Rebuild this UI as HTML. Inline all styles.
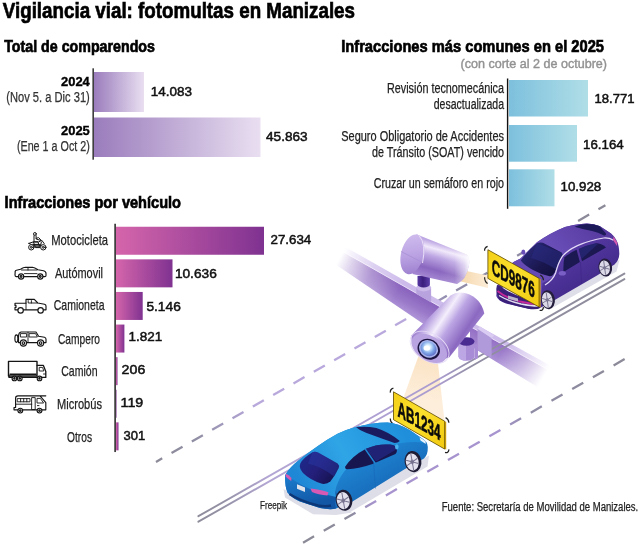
<!DOCTYPE html>
<html><head><meta charset="utf-8"><title>Vigilancia vial</title>
<style>
html,body{margin:0;padding:0;background:#fff;}
body{width:640px;height:544px;overflow:hidden;font-family:'Liberation Sans', sans-serif;}
svg{display:block;font-family:'Liberation Sans', sans-serif;}
</style></head><body>
<svg width="640" height="544" viewBox="0 0 640 544">
<rect width="640" height="544" fill="#fff"/>
<g opacity="0.999">
<defs>

<linearGradient id="gPur" x1="0" x2="1" y1="0" y2="0"><stop offset="0" stop-color="#9a7cbc"/><stop offset="1" stop-color="#e9dff1"/></linearGradient>
<linearGradient id="gBlu" x1="0" x2="1" y1="0" y2="0"><stop offset="0" stop-color="#7dc0dd"/><stop offset="1" stop-color="#b0dee7"/></linearGradient>
<linearGradient id="gMag" x1="0" x2="1" y1="0" y2="0"><stop offset="0" stop-color="#d565ab"/><stop offset="1" stop-color="#7f3291"/></linearGradient>

<!-- road line gradients -->
<linearGradient id="gLineA" gradientUnits="userSpaceOnUse" x1="150" y1="0" x2="610" y2="0">
  <stop offset="0" stop-color="#8b8a97"/><stop offset="0.10" stop-color="#908ea4"/><stop offset="0.23" stop-color="#b8a8dc"/>
  <stop offset="0.57" stop-color="#b8a8dc"/><stop offset="0.65" stop-color="#908cab"/><stop offset="1" stop-color="#8b8a97"/>
</linearGradient>
<linearGradient id="gLineB" gradientUnits="userSpaceOnUse" x1="195" y1="0" x2="630" y2="0">
  <stop offset="0" stop-color="#8e8d9b"/><stop offset="0.06" stop-color="#9390a4"/><stop offset="0.17" stop-color="#b3a6d4"/>
  <stop offset="0.56" stop-color="#ab9cd0"/><stop offset="0.64" stop-color="#908da2"/><stop offset="1" stop-color="#8e8d9b"/>
</linearGradient>
<linearGradient id="gLineC" gradientUnits="userSpaceOnUse" x1="300" y1="0" x2="630" y2="0">
  <stop offset="0" stop-color="#8b8a97"/><stop offset="0.15" stop-color="#8c8b9c"/><stop offset="0.23" stop-color="#a794cf"/>
  <stop offset="0.60" stop-color="#a794cf"/><stop offset="0.70" stop-color="#8f8ca6"/><stop offset="1" stop-color="#8b8a97"/>
</linearGradient>
<!-- beam -->
<linearGradient id="gBeamFade" gradientUnits="userSpaceOnUse" x1="336" y1="254" x2="554" y2="378">
  <stop offset="0.02" stop-color="#fff" stop-opacity="0"/><stop offset="0.075" stop-color="#fff" stop-opacity="0.3"/><stop offset="0.16" stop-color="#fff" stop-opacity="0.7"/><stop offset="0.29" stop-color="#fff" stop-opacity="1"/>
  <stop offset="0.766" stop-color="#fff" stop-opacity="1"/><stop offset="0.872" stop-color="#fff" stop-opacity="0.5"/><stop offset="0.963" stop-color="#fff" stop-opacity="0"/>
</linearGradient>
<mask id="mBeam" maskUnits="userSpaceOnUse" x="320" y="230" width="260" height="180">
  <rect x="320" y="230" width="260" height="180" fill="url(#gBeamFade)"/>
</mask>
<linearGradient id="gBeamFront" gradientUnits="userSpaceOnUse" x1="400" y1="286" x2="389" y2="306">
  <stop offset="0" stop-color="#8a64bd"/><stop offset="0.5" stop-color="#9a79c9"/><stop offset="1" stop-color="#b39adb"/>
</linearGradient>
<linearGradient id="gBeamFront2" gradientUnits="userSpaceOnUse" x1="510" y1="349" x2="499" y2="371">
  <stop offset="0" stop-color="#9672c6"/><stop offset="0.5" stop-color="#a386d0"/><stop offset="1" stop-color="#b9a3de"/>
</linearGradient>
<!-- camera 1 -->
<linearGradient id="gCam1Body" gradientUnits="userSpaceOnUse" x1="442" y1="244" x2="432" y2="280">
  <stop offset="0" stop-color="#bfa9e4"/><stop offset="0.17" stop-color="#f1e9fb"/><stop offset="0.38" stop-color="#bda6e3"/>
  <stop offset="0.72" stop-color="#8a67bf"/><stop offset="1" stop-color="#a78bd5"/>
</linearGradient>
<linearGradient id="gCam1End" gradientUnits="userSpaceOnUse" x1="440" y1="0" x2="469" y2="0">
  <stop offset="0" stop-color="#fff" stop-opacity="0"/><stop offset="0.5" stop-color="#fff" stop-opacity="0.12"/><stop offset="0.85" stop-color="#fff" stop-opacity="0.55"/><stop offset="1" stop-color="#fff" stop-opacity="0.9"/>
</linearGradient>
<linearGradient id="gCam1Cap" gradientUnits="userSpaceOnUse" x1="406" y1="238" x2="420" y2="272">
  <stop offset="0" stop-color="#cdb9ec"/><stop offset="0.5" stop-color="#bba3e3"/><stop offset="1" stop-color="#9f82d0"/>
</linearGradient>
<linearGradient id="gMount" gradientUnits="userSpaceOnUse" x1="417" y1="0" x2="430" y2="0">
  <stop offset="0" stop-color="#5a3aa5"/><stop offset="0.45" stop-color="#3a1d7c"/><stop offset="1" stop-color="#5e3fab"/>
</linearGradient>
<!-- camera 2 -->
<linearGradient id="gCam2Body" gradientUnits="userSpaceOnUse" x1="428" y1="312" x2="470" y2="340">
  <stop offset="0" stop-color="#9b7dcc"/><stop offset="0.10" stop-color="#b7a0e0"/><stop offset="0.32" stop-color="#f4eefc"/>
  <stop offset="0.52" stop-color="#bba4e3"/><stop offset="0.82" stop-color="#8b69c1"/><stop offset="1" stop-color="#9b7dcd"/>
</linearGradient>
<radialGradient id="gLens" gradientUnits="userSpaceOnUse" cx="427" cy="348" r="10">
  <stop offset="0" stop-color="#ffffff"/><stop offset="0.25" stop-color="#d6ecff"/><stop offset="0.6" stop-color="#7fa6e6"/><stop offset="1" stop-color="#5a63c0"/>
</radialGradient>
<linearGradient id="gCone2" gradientUnits="userSpaceOnUse" x1="428" y1="358" x2="420" y2="400">
  <stop offset="0" stop-color="#fbe3c4"/><stop offset="1" stop-color="#fdeedb"/>
</linearGradient>
<linearGradient id="gCone1" gradientUnits="userSpaceOnUse" x1="462" y1="0" x2="490" y2="0">
  <stop offset="0" stop-color="#f6d9ae"/><stop offset="1" stop-color="#fdeedb"/>
</linearGradient>
<!-- plates -->
<linearGradient id="gPlate" x1="0" y1="0" x2="1" y2="1">
  <stop offset="0" stop-color="#f4cf17"/><stop offset="0.45" stop-color="#fbe02e"/><stop offset="1" stop-color="#f2c90f"/>
</linearGradient>
<!-- cars -->
<linearGradient id="gPurTop" gradientUnits="userSpaceOnUse" x1="520" y1="290" x2="600" y2="225">
  <stop offset="0" stop-color="#6448b0"/><stop offset="0.5" stop-color="#6a4eb8"/><stop offset="1" stop-color="#563a9f"/>
</linearGradient>
<linearGradient id="gPurSide" gradientUnits="userSpaceOnUse" x1="560" y1="255" x2="585" y2="295">
  <stop offset="0" stop-color="#5639a3"/><stop offset="1" stop-color="#3f2887"/>
</linearGradient>
<linearGradient id="gGlassP" gradientUnits="userSpaceOnUse" x1="525" y1="245" x2="555" y2="275">
  <stop offset="0" stop-color="#2b2a7c"/><stop offset="0.6" stop-color="#1a174f"/><stop offset="1" stop-color="#121040"/>
</linearGradient>
<linearGradient id="gBluTop" gradientUnits="userSpaceOnUse" x1="300" y1="480" x2="400" y2="425">
  <stop offset="0" stop-color="#1f88d6"/><stop offset="0.45" stop-color="#2fa5e6"/><stop offset="1" stop-color="#1f8fdb"/>
</linearGradient>
<linearGradient id="gBluSide" gradientUnits="userSpaceOnUse" x1="360" y1="455" x2="385" y2="500">
  <stop offset="0" stop-color="#1f86d4"/><stop offset="1" stop-color="#1565b4"/>
</linearGradient>
<linearGradient id="gBluRear" gradientUnits="userSpaceOnUse" x1="300" y1="470" x2="310" y2="505">
  <stop offset="0" stop-color="#1c7fd0"/><stop offset="1" stop-color="#1257a6"/>
</linearGradient>
<linearGradient id="gGlassB" gradientUnits="userSpaceOnUse" x1="300" y1="455" x2="335" y2="480">
  <stop offset="0" stop-color="#1c2a8c"/><stop offset="0.5" stop-color="#241f7a"/><stop offset="1" stop-color="#15124e"/>
</linearGradient>

<clipPath id="clipA"><path d="M140 190 H522 V480 H140 Z M570 190 H640 V260 H570 Z"/></clipPath>

</defs>
<g id="illustration">
<!-- ===== road lines ===== -->
<path d="M156 461.9 L605.4 205.3" clip-path="url(#clipA)" stroke="url(#gLineA)" stroke-width="2.3" stroke-dasharray="12.7 10.71" stroke-dashoffset="5.55" fill="none"/>
<path d="M300 544.4 L626 358.3" stroke="url(#gLineC)" stroke-width="2.3" stroke-dasharray="12.7 11.14" stroke-dashoffset="-3.5" fill="none"/>

<!-- ===== beam ===== -->
<g mask="url(#mBeam)">
  <path d="M333 245.9 L446 310.1 L446 339.3 L333 262.8 Z" fill="url(#gBeamFront)"/>
  <path d="M333 239.9 L446 304.1 L446 310.1 L333 245.9 Z" fill="#cdbbeb"/>
  <path d="M333 245.9 L446 310.1" stroke="#e6dbf7" stroke-width="1" fill="none"/>
  <path d="M470 326.4 L562 377.3 L562 401.9 L470 345.8 Z" fill="url(#gBeamFront2)"/>
  <path d="M470 321.2 L562 372.1 L562 377.3 L470 326.4 Z" fill="#cdbbeb"/>
  <path d="M470 326.4 L562 377.3" stroke="#e6dbf7" stroke-width="1" fill="none"/>
</g>
<!-- camera 2 light cone -->
<path d="M418.5 356 L438 363.5 L444.5 421 L403.5 397.5 Z" fill="url(#gCone2)"/>
<!-- double solid line (over beam) -->
<path d="M198.4 516.2 L624.4 273.6 M198.4 521.7 L624.4 279.1" stroke="url(#gLineB)" stroke-width="1.9" stroke-linecap="round" fill="none"/>

<!-- ===== camera 1 light cone ===== -->
<path d="M464 270.5 L488 275.5 L488 288 L461 281.5 Z" fill="url(#gCone1)"/>
<!-- camera 1 mount -->
<path d="M416.3 287.6 L416.3 294 L431.1 302.5 L431.1 287.6 Z" fill="#b9a3df"/>
<ellipse cx="423.7" cy="287.6" rx="7.4" ry="3.8" fill="#cbb9ea"/>
<path d="M417.5 276 L417.5 284.5 A6.2 3 0 0 0 429.9 284.5 L429.9 276 Z" fill="url(#gMount)"/>
<!-- camera 1 body -->
<path d="M416.5 234.3 L466 254.3 Q470.5 257 468.8 266 Q466 280 457 284 L412.5 274 Z" fill="url(#gCam1Body)"/>
<path d="M416.5 234.3 L466 254.3 Q470.5 257 468.8 266 Q466 280 457 284 L412.5 274 Z" fill="url(#gCam1End)"/>
<!-- camera 1 back cap -->
<g transform="rotate(14 412.3 254.3)">
  <ellipse cx="412.3" cy="254.3" rx="11.2" ry="20.3" fill="url(#gCam1Cap)"/>
</g>
<path d="M401 251.5 L423.5 263" stroke="#a88fd6" stroke-width="0.8" fill="none"/>
<path d="M419 235.5 Q426.5 244 422.5 263" stroke="#e9dff8" stroke-width="1" fill="none"/>

<!-- ===== camera 2 ===== -->
<!-- bracket block to the right of camera 2 -->
<path d="M477.5 328.8 L491.6 338.1 L491.6 358 L477.5 350 Z" fill="#b19ad9"/>
<path d="M477.5 328.8 L480.3 326.5 L494.4 335.6 L491.6 338.1 Z" fill="#d9cbf2"/>
<!-- mount cylinder -->
<path d="M458.5 341 L458.5 356.5 A8 4.3 0 0 0 474.5 356.5 L474.5 341 Z" fill="#a88dd6"/>
<path d="M458.5 341 L458.5 356.5 A8 4.3 0 0 0 466 360.7 L466 345 Z" fill="#bca7e4"/>
<ellipse cx="466.5" cy="341.5" rx="8" ry="4.3" fill="#4a2b92"/>
<path d="M474.5 345 L478 343 L478 358 L474.5 360 Z" fill="#a88dd6"/>
<!-- body -->
<path d="M450.5 295.5 Q457 291 466 293.3 Q481 298 484.3 313.5 L449.3 357.3 Q436 364 421 355 Q410 347 411.5 335.3 Z" fill="url(#gCam2Body)"/>
<!-- front rim -->
<g transform="rotate(32 429.6 347.3)">
  <ellipse cx="429.6" cy="347.3" rx="21.3" ry="13.6" fill="none" stroke="#e6dcf7" stroke-width="0.9"/>
  <ellipse cx="429.9" cy="348.4" rx="19.6" ry="12.2" fill="#b9a3e0"/>
</g>
<!-- lens -->
<g transform="rotate(30 429 349.6)">
  <ellipse cx="428.6" cy="349.4" rx="11.6" ry="10" fill="#1b1440"/>
  <ellipse cx="428.2" cy="349.2" rx="9.9" ry="8.4" fill="#aab4ec"/>
  <ellipse cx="428.2" cy="349.2" rx="8.4" ry="7" fill="url(#gLens)"/>
</g>
<ellipse cx="426.8" cy="348" rx="3.2" ry="2.6" fill="#fff"/>
<!-- ===== PURPLE CAR ===== -->
<g id="purplecar">
<!-- ground shadow -->
<path d="M541 309 L553 307.5 L616.5 271.5 L619.5 260 L600 268 L556 296 Z" fill="#dedee8"/>
<!-- silhouette (side colour) -->
<path d="M497 287 L496.3 296 Q498 301 506 303.5 L528 308.5 Q536 310 541 307.5 L555.6 299.5 L597 275.5 L614.5 264.5 Q619.5 260 619.3 253 Q619 246 617.5 242.5 Q615 236.5 611 233.5 L600 226.2 Q592 223 584 223.7 Q573 224.5 565 227 Q550 233 537 242.3 L520.5 258.5 L513.5 262 Q503 270 497 287 Z" fill="url(#gPurSide)"/>
<!-- top surfaces: hood + roof -->
<path d="M497 287 Q503 270 513.5 262 L520.5 258.5 L537 242.3 Q550 233 565 227 Q573 224.5 584 223.7 Q592 223 600 226.2 L611 233.5 Q613.5 236 612.5 240 Q608 237.5 603.8 238 Q590 240 577.5 245.6 Q567 250.5 562.2 256.6 Q558 263 555.6 273 Q553 278.5 542.5 283 L540 307 L497 296 Z" fill="url(#gPurTop)"/>
<!-- windshield -->
<path d="M520.8 260.5 Q527 251 537 243.2 Q540 241.8 543 242.8 L561.5 252.5 Q563 254 562 256.5 Q558 263 556 269.5 Q553.5 276.5 549.5 276.3 Q540 274 533 270 Q524 265 520.8 260.5 Z" fill="url(#gGlassP)"/>
<path d="M537 243.2 L561.5 252.5 Q563 254 562 256.5 L556 269.5 Q545 262 531 258 Z" fill="#2a2c84" opacity="0.55"/>
<!-- rear window -->
<path d="M574.5 226.8 Q580 224.3 586.3 224 Q594 223.8 599.4 226 L606 233.5 Q606.5 236 604 235.5 Q598 232 592 231 Q583 229.5 574.5 226.8 Z" fill="#1d1a5a"/>
<!-- side windows -->
<path d="M564.6 257.3 Q570 252.5 576.6 249.8 L579.8 262 L563.5 272 Q563 263 564.6 257.3 Z" fill="#1b1852"/>
<path d="M578.8 249 Q587 245 595 243.4 Q601 243 606 247.5 L582 261.3 Z" fill="#1b1852"/>
<path d="M578.8 249 Q587 245 595 243.4 L598 244 L581.5 259 Z" fill="#2b2c80" opacity="0.6"/>
<!-- roof edge highlight line -->
<path d="M545 285 Q553 280 555.6 273 Q558 263 562.2 256.6 Q567 250.5 577.5 245.6 Q590 240 603.8 238 Q609 237.6 613.5 240.2" stroke="#e4dbf7" stroke-width="1.2" fill="none"/>
<!-- door seam -->
<path d="M580.5 262 L581.5 284" stroke="#3a2380" stroke-width="0.5" fill="none"/>
<!-- mirror -->
<ellipse cx="562.3" cy="273.3" rx="3.6" ry="2.3" fill="#7a5fc6"/>
<ellipse cx="523.3" cy="252.2" rx="2" ry="2.6" fill="#6a4fb8"/>
<!-- tail light -->
<path d="M613.5 236.5 L617.3 242.5 L617 246 L613 240 Z" fill="#d25ab0"/>
<!-- wheels -->
<g transform="rotate(-8 605.3 267.5)">
 <ellipse cx="605.3" cy="267.5" rx="6.8" ry="9" fill="#241d3c"/>
 <ellipse cx="604.6" cy="267.7" rx="5.3" ry="7.4" fill="#dcdae8"/>
 <ellipse cx="604.6" cy="267.7" rx="1.5" ry="2" fill="#8e8aa8"/>
 <path d="M604.6 260.7 L604.6 274.7 M599.8 265.5 L609.4 269.9 M599.8 269.9 L609.4 265.5" stroke="#77738f" stroke-width="0.9"/>
</g>
<g transform="rotate(-8 548 299.7)">
 <ellipse cx="548" cy="299.7" rx="6.9" ry="9.6" fill="#241d3c"/>
 <ellipse cx="547.2" cy="299.9" rx="5.3" ry="7.9" fill="#dcdae8"/>
 <ellipse cx="547.2" cy="299.9" rx="1.5" ry="2" fill="#8e8aa8"/>
 <path d="M547.2 292.5 L547.2 307.3 M542.4 297.6 L552 302.2 M542.4 302.2 L552 297.6" stroke="#77738f" stroke-width="0.9"/>
</g>
<!-- front bumper details (below plate) -->
<path d="M496.3 289 Q497 297 500 300.5 Q510 305 528 308.7 Q536 310 540 308 L540 300 L497 285 Z" fill="#3a2079"/>
<path d="M497.5 291 Q505 297.5 520 301.5 Q532 304.3 539.5 304" stroke="#c3279a" stroke-width="1.8" fill="none"/>
<path d="M499 295.5 Q508 301 521 304 Q531 306 538 306" stroke="#e5def2" stroke-width="1.3" fill="none"/>
<path d="M503 287 Q512 293.5 524 296.5" stroke="#efeaf8" stroke-width="2" fill="none"/>
<path d="M508 295.5 L518 298.5 L518 301.5 L508 298.7 Z" fill="#b9b4cc"/>
</g>

<!-- ===== PLATE CD9876 ===== -->
<g id="plate1">
<path d="M487.9 249.7 L539.1 278.4 L540.6 279 L540.6 307.4 L539.1 307 L487.9 278.4 Z" fill="#d9a80c"/>
<path d="M487.9 249.7 L539.1 278.4 L539.1 307 L487.9 278.4 Z" fill="url(#gPlate)" stroke="#4a3b05" stroke-width="0.7" stroke-linejoin="round"/>
<g transform="matrix(1 0.56 0 1 491.8 274)">
  <text x="0" y="0" font-size="22" font-weight="bold" fill="#0b0b0b" stroke="#0b0b0b" stroke-width="0.6" textLength="43" lengthAdjust="spacingAndGlyphs">CD9876</text>
</g>
<!-- corner marks -->
<path d="M484.6 250.8 Q484.3 247.6 487.6 246.4" stroke="#222" stroke-width="1.2" fill="none"/>
<path d="M484.6 277.2 Q484.6 281.6 487.6 283.6" stroke="#222" stroke-width="1.2" fill="none"/>
<path d="M539.6 310.2 Q542.9 311.4 543.5 307.2" stroke="#222" stroke-width="1.2" fill="none"/>
<path d="M540.2 275 Q543.2 276.4 543.5 280.2" stroke="#222" stroke-width="1.2" fill="none"/>
</g>
<!-- ===== PLATE AB1234 (behind blue car) ===== -->
<g id="plate2">
<path d="M393.5 391.8 L444.7 421.2 L446.2 421.9 L446.2 449.6 L444.7 449.1 L393.5 419.7 Z" fill="#d9a80c"/>
<path d="M393.5 391.8 L444.7 421.2 L444.7 449.1 L393.5 419.7 Z" fill="url(#gPlate)" stroke="#4a3b05" stroke-width="0.7" stroke-linejoin="round"/>
<g transform="matrix(1 0.574 0 1 397.5 416)">
  <text x="0" y="0" font-size="22" font-weight="bold" fill="#0b0b0b" stroke="#0b0b0b" stroke-width="0.6" textLength="43" lengthAdjust="spacingAndGlyphs">AB1234</text>
</g>
<path d="M390.3 392.6 Q390 389.2 393.4 388.2" stroke="#222" stroke-width="1.2" fill="none"/>
<path d="M390.3 418.6 Q390.2 422 392.6 423.6" stroke="#222" stroke-width="1.2" fill="none"/>
<path d="M445.6 417.6 Q448.6 419 448.9 422.8" stroke="#222" stroke-width="1.2" fill="none"/>
<path d="M445 452.4 Q448.4 453.4 449 449.4" stroke="#222" stroke-width="1.2" fill="none"/>
</g>

<!-- ===== BLUE CAR ===== -->
<g id="bluecar">
<!-- ground shadow -->
<path d="M338 510.5 L350 512.3 L427.5 466.5 L429 455.5 L408 467 L352 500 Z" fill="#dedee8"/>
<path d="M283.5 489 L285 497.5 L313 514.2 L336 515 L352 512.5 L340 506 L300 498 Z" fill="#dedee8"/>
<!-- silhouette: side colour -->
<path d="M285 475.5 Q285 487 287.5 492.5 Q292 498 300 501.5 L320 508 Q330 510 336 508.5 L352.5 501.5 L405 469 L424 458.5 Q428 455 427.8 447 Q427.5 441 422.5 438.7 L410 430.3 Q398 423 387.5 422.5 Q372 422.5 355 427.3 Q345 430 337.5 433.7 Q326 440 317.5 446.2 Q305 455 297.5 461.2 Q290 467 285 475.5 Z" fill="url(#gBluSide)"/>
<!-- rear face -->
<path d="M285 475.5 Q285 487 287.5 492.5 Q292 498 300 501.5 L320 508 Q330 510 336 508.5 Q334 500 337 494 L331 482 L300 463 Q290 467 285 475.5 Z" fill="url(#gBluRear)"/>
<!-- top surfaces -->
<path d="M286 474 Q290 467 297.5 461.2 Q305 455 317.5 446.2 Q326 440 337.5 433.7 Q345 430 355 427.3 Q372 422.5 387.5 422.5 Q398 423 410 430.3 L422.5 438.7 Q425 440.5 425 443 Q414 441 400 443.3 Q385 446 372 451.5 Q356 459 347 468 Q340 476 336.5 486 Q334.5 492 336 497 L328 495 L310 489 Q296 483 286 474 Z" fill="url(#gBluTop)"/>
<!-- rear window -->
<path d="M300.3 463.6 Q303 458 312.5 452.3 Q315 451.2 318 452.6 L337.5 463.5 Q339.6 465.3 338.6 468 Q335 476 330.5 481.3 Q327 484.5 322 483.8 Q310 480 303 473 Q298.5 468 300.3 463.6 Z" fill="url(#gGlassB)"/>
<path d="M312.5 452.3 Q315 451.2 318 452.6 L337.5 463.5 Q339.6 465.3 338.6 468 L334 476.5 Q322 467 308 463.5 Z" fill="#2a3aa8" opacity="0.45"/>
<!-- side windows -->
<path d="M345.3 466.5 Q352 456 366 448.7 Q378 443.5 390 444.6 Q396 445.4 397 449 Q397.3 452 395.5 454 L372.5 464 Q358 469 347.5 469.3 Q344.5 469 345.3 466.5 Z" fill="#18164f"/>
<path d="M366 448.7 Q378 443.5 390 444.6 Q396 445.4 397 449 L376 461.5 Z" fill="#232a86" opacity="0.7"/>
<path d="M365.2 449 L375.3 463.5" stroke="#1f86d4" stroke-width="1.4" fill="none"/>
<!-- windshield sliver -->
<path d="M356 427.2 Q366 425.8 376.3 428 Q389 432 399.8 441 Q398 443 394.5 443 Q380 438 366 432.8 Q360 430.5 356 427.2 Z" fill="#1a1a5e"/>
<!-- tail lights -->
<path d="M286 473.8 Q288.5 474.5 291.5 478 L291.2 481 Q287.5 478.5 285.6 476.5 Z" fill="#d65ab4"/>
<path d="M310.5 488.6 Q318 489 328.5 492.3 L327.5 495.5 Q318 494.5 312 492 Z" fill="#d65ab4"/>
<!-- rear plate -->
<path d="M297 484.3 L305 487.5 L305 492 L297 488.8 Z" fill="#dfe3ec"/>
<!-- rear bumper dark line -->
<path d="M289.5 494 Q300 501 318 505.5 Q326 507 331 505.5" stroke="#0d3878" stroke-width="2.6" fill="none"/>
<!-- mirror -->
<ellipse cx="396.8" cy="446.8" rx="1.8" ry="2.6" fill="#49b2ee"/>
<!-- door seam -->
<path d="M373.5 461.5 L375.5 488.5" stroke="#1765b5" stroke-width="0.5" fill="none"/>
<!-- wheels -->
<g transform="rotate(-10 344 500.3)">
 <ellipse cx="344" cy="500.3" rx="8.3" ry="10.6" fill="#1f1c36"/>
 <ellipse cx="343.2" cy="500.5" rx="6.4" ry="8.6" fill="#e4e2ee"/>
 <ellipse cx="343.2" cy="500.5" rx="1.8" ry="2.4" fill="#8e8aa8"/>
 <path d="M343.2 492.3 L343.2 508.7 M337.4 497.8 L349 503.2 M337.4 503.2 L349 497.8" stroke="#77738f" stroke-width="1"/>
</g>
<g transform="rotate(-10 413 461.6)">
 <ellipse cx="413" cy="461.6" rx="8.4" ry="10.7" fill="#1f1c36"/>
 <ellipse cx="412.2" cy="461.8" rx="6.4" ry="8.6" fill="#e4e2ee"/>
 <ellipse cx="412.2" cy="461.8" rx="1.8" ry="2.4" fill="#8e8aa8"/>
 <path d="M412.2 453.6 L412.2 470 M406.4 459.1 L418 464.5 M406.4 464.5 L418 459.1" stroke="#77738f" stroke-width="1"/>
</g>
<!-- headlight -->
<path d="M419.5 437.2 L425.5 441 L425.8 444 L420.5 440.5 Z" fill="#e8f2fb"/>
</g>

</g>

<text x="2.8" y="18.2" font-size="22.5" font-weight="bold" fill="#000" textLength="352.20" lengthAdjust="spacingAndGlyphs" stroke="#000" stroke-width="0.7">Vigilancia vial: fotomultas en Manizales</text>
<text x="4.2" y="51.9" font-size="17.2" font-weight="bold" fill="#000" textLength="150.80" lengthAdjust="spacingAndGlyphs" stroke="#000" stroke-width="0.7">Total de comparendos</text>
<rect x="94" y="72" width="50" height="40" fill="url(#gPur)"/>
<rect x="94" y="117.5" width="166.5" height="39.5" fill="url(#gPur)"/>
<rect x="92.5" y="68.3" width="1.3" height="91.4" fill="#111"/>
<text x="61.0" y="85.8" font-size="13.4" font-weight="bold" fill="#000" textLength="28.80" lengthAdjust="spacingAndGlyphs" stroke="#000" stroke-width="0.35">2024</text>
<text x="6.25" y="101.75" font-size="14" font-weight="normal" fill="#333" textLength="83.55" lengthAdjust="spacingAndGlyphs" stroke="#333" stroke-width="0.25">(Nov 5. a Dic 31)</text>
<text x="61.0" y="134.5" font-size="13.4" font-weight="bold" fill="#000" textLength="28.80" lengthAdjust="spacingAndGlyphs" stroke="#000" stroke-width="0.35">2025</text>
<text x="16.9" y="151" font-size="14" font-weight="normal" fill="#333" textLength="72.90" lengthAdjust="spacingAndGlyphs" stroke="#333" stroke-width="0.25">(Ene 1 a Oct 2)</text>
<text x="150.8" y="95.5" font-size="13.2" font-weight="normal" fill="#111" textLength="41.20" lengthAdjust="spacingAndGlyphs" stroke="#111" stroke-width="0.5">14.083</text>
<text x="266" y="141.1" font-size="13.2" font-weight="normal" fill="#111" textLength="41.70" lengthAdjust="spacingAndGlyphs" stroke="#111" stroke-width="0.5">45.863</text>
<text x="341.2" y="52.1" font-size="17.2" font-weight="bold" fill="#000" textLength="262.80" lengthAdjust="spacingAndGlyphs" stroke="#000" stroke-width="0.7">Infracciones más comunes en el 2025</text>
<text x="460.5" y="67.7" font-size="12" font-weight="normal" fill="#929292" textLength="146.50" lengthAdjust="spacingAndGlyphs" stroke="#929292" stroke-width="0.4">(con corte al 2 de octubre)</text>
<rect x="509" y="80" width="79" height="36.5" fill="url(#gBlu)"/>
<rect x="509" y="125" width="68" height="36.7" fill="url(#gBlu)"/>
<rect x="509" y="169.3" width="45.5" height="37" fill="url(#gBlu)"/>
<rect x="506.9" y="78.5" width="1.4" height="130.3" fill="#111"/>
<text x="387" y="92.5" font-size="14" font-weight="normal" fill="#222" textLength="117.00" lengthAdjust="spacingAndGlyphs" stroke="#222" stroke-width="0.25">Revisión tecnomecánica</text>
<text x="433.75" y="108.75" font-size="14" font-weight="normal" fill="#222" textLength="70.25" lengthAdjust="spacingAndGlyphs" stroke="#222" stroke-width="0.25">desactualizada</text>
<text x="341.25" y="140.5" font-size="14" font-weight="normal" fill="#222" textLength="162.75" lengthAdjust="spacingAndGlyphs" stroke="#222" stroke-width="0.25">Seguro Obligatorio de Accidentes</text>
<text x="372" y="157" font-size="14" font-weight="normal" fill="#222" textLength="132.00" lengthAdjust="spacingAndGlyphs" stroke="#222" stroke-width="0.25">de Tránsito (SOAT) vencido</text>
<text x="373.75" y="188" font-size="14" font-weight="normal" fill="#222" textLength="130.25" lengthAdjust="spacingAndGlyphs" stroke="#222" stroke-width="0.25">Cruzar un semáforo en rojo</text>
<text x="594.5" y="102.6" font-size="13.2" font-weight="normal" fill="#111" textLength="40.00" lengthAdjust="spacingAndGlyphs" stroke="#111" stroke-width="0.5">18.771</text>
<text x="583" y="148.85" font-size="13.2" font-weight="normal" fill="#111" textLength="40.75" lengthAdjust="spacingAndGlyphs" stroke="#111" stroke-width="0.5">16.164</text>
<text x="560.5" y="191.35" font-size="13.2" font-weight="normal" fill="#111" textLength="40.75" lengthAdjust="spacingAndGlyphs" stroke="#111" stroke-width="0.5">10.928</text>
<text x="4.6" y="208.3" font-size="17.2" font-weight="bold" fill="#000" textLength="176.40" lengthAdjust="spacingAndGlyphs" stroke="#000" stroke-width="0.7">Infracciones por vehículo</text>
<rect x="116" y="226.75" width="148.00" height="28" fill="url(#gMag)"/>
<rect x="116" y="259.35" width="56.50" height="28" fill="url(#gMag)"/>
<rect x="116" y="291.95" width="26.70" height="28" fill="url(#gMag)"/>
<rect x="116" y="324.55" width="8.40" height="28" fill="url(#gMag)"/>
<rect x="116" y="357.15" width="1.50" height="28" fill="url(#gMag)"/>
<rect x="116" y="389.75" width="0.50" height="28" fill="url(#gMag)"/>
<rect x="116" y="422.35" width="2.50" height="28" fill="url(#gMag)"/>
<rect x="114.4" y="223.75" width="1.4" height="228.3" fill="#111"/>
<text x="51.25" y="245" font-size="15" font-weight="normal" fill="#222" textLength="56.75" lengthAdjust="spacingAndGlyphs" stroke="#222" stroke-width="0.25">Motocicleta</text>
<text x="55" y="277.5" font-size="15" font-weight="normal" fill="#222" textLength="48.00" lengthAdjust="spacingAndGlyphs" stroke="#222" stroke-width="0.25">Autómovil</text>
<text x="53.75" y="310" font-size="15" font-weight="normal" fill="#222" textLength="50.75" lengthAdjust="spacingAndGlyphs" stroke="#222" stroke-width="0.25">Camioneta</text>
<text x="58" y="343.8" font-size="15" font-weight="normal" fill="#222" textLength="42.00" lengthAdjust="spacingAndGlyphs" stroke="#222" stroke-width="0.25">Campero</text>
<text x="61.25" y="375.5" font-size="15" font-weight="normal" fill="#222" textLength="36.25" lengthAdjust="spacingAndGlyphs" stroke="#222" stroke-width="0.25">Camión</text>
<text x="57" y="408.75" font-size="15" font-weight="normal" fill="#222" textLength="45.00" lengthAdjust="spacingAndGlyphs" stroke="#222" stroke-width="0.25">Microbús</text>
<text x="67" y="441.8" font-size="15" font-weight="normal" fill="#222" textLength="25.00" lengthAdjust="spacingAndGlyphs" stroke="#222" stroke-width="0.25">Otros</text>
<text x="270.5" y="244.0" font-size="13.2" font-weight="normal" fill="#111" textLength="40.80" lengthAdjust="spacingAndGlyphs" stroke="#111" stroke-width="0.5">27.634</text>
<text x="174.9" y="277.5" font-size="13.2" font-weight="normal" fill="#111" textLength="41.90" lengthAdjust="spacingAndGlyphs" stroke="#111" stroke-width="0.5">10.636</text>
<text x="146.4" y="310.5" font-size="13.2" font-weight="normal" fill="#111" textLength="34.40" lengthAdjust="spacingAndGlyphs" stroke="#111" stroke-width="0.5">5.146</text>
<text x="128.6" y="340.9" font-size="13.2" font-weight="normal" fill="#111" textLength="33.70" lengthAdjust="spacingAndGlyphs" stroke="#111" stroke-width="0.5">1.821</text>
<text x="121.6" y="373.8" font-size="13.2" font-weight="normal" fill="#111" textLength="23.70" lengthAdjust="spacingAndGlyphs" stroke="#111" stroke-width="0.5">206</text>
<text x="120.6" y="406.7" font-size="13.2" font-weight="normal" fill="#111" textLength="22.70" lengthAdjust="spacingAndGlyphs" stroke="#111" stroke-width="0.5">119</text>
<text x="123.6" y="439.5" font-size="13.2" font-weight="normal" fill="#111" textLength="21.70" lengthAdjust="spacingAndGlyphs" stroke="#111" stroke-width="0.5">301</text>
<g id="icons" fill="none" stroke="#151515" stroke-width="1.15" stroke-linejoin="round" stroke-linecap="round">
<!-- motorcycle -->
<g stroke-width="1">
  <path d="M28.8 243.4 L33 242 L38.5 242 L41.8 240.3 L44.2 243.6 M33.5 242.2 L35.6 247.6 L40 247.6 L41.4 242 M28.8 243.4 L32.6 245 L41 245" />
  <path d="M33 244.4 L39.6 244.4 L39.2 247 L35.8 247 Z" fill="#151515" fill-opacity="0.35"/>
  <circle cx="31.3" cy="247.3" r="2.7" fill="#fff"/>
  <circle cx="43.3" cy="247.3" r="2.7" fill="#fff"/>
  <circle cx="31.3" cy="247.3" r="1"/>
  <circle cx="43.3" cy="247.3" r="1"/>
  <circle cx="34.9" cy="233.9" r="1.4"/>
  <path d="M34 235.6 L34 241.6 M36.1 235.6 L36.1 239 L40.8 240.4 M34 241.8 L38 241.8 L38.8 245 M36.2 238.4 L38.6 237.6 L40.6 239.6"/>
</g>
<!-- car -->
<g>
  <path d="M15.2 271.4 Q15.2 270.6 16.5 270.3 L20.5 269.3 Q23.5 267.4 25.5 267.3 L32.5 267.3 Q34.5 267.5 38 269.8 L43.5 270.8 Q46 271.4 46 273.5 L46 275.5 Q46 276.6 44.8 276.6 L16.2 276.6 Q15 276.3 15 275 Z"/>
  <path d="M21.5 270 L37 270 M28 267.5 L28 270 M24.5 273.6 L37 273.6" stroke-width="0.9"/>
  <circle cx="21.1" cy="276.5" r="2.6" fill="#fff"/><circle cx="40.3" cy="276.5" r="2.6" fill="#fff"/>
  <circle cx="21.1" cy="276.5" r="0.9"/><circle cx="40.3" cy="276.5" r="0.9"/>
</g>
<!-- pickup -->
<g>
  <path d="M15 303.2 L26 303.2 L26 299.4 L34.3 299.4 L37.8 303 L44.5 304.2 Q46 304.6 46 306 L46 309.8 L15 309.8 L15 307.4 L16 307.4 L16 305.4 L15 305.4 Z"/>
  <path d="M26 303.2 L26 309.6 M28.2 300.6 L28.2 303 L37.2 303 M31.4 300.6 L31.4 303" stroke-width="0.9"/>
  <circle cx="20.6" cy="310.4" r="2.7" fill="#fff"/><circle cx="40.6" cy="310.4" r="2.7" fill="#fff"/>
</g>
<!-- jeep -->
<g>
  <ellipse cx="16.4" cy="338.6" rx="1.5" ry="3.8"/>
  <path d="M18.5 336 Q18.8 332.3 21 332 L36 332 L38.6 336.2 L44.5 337.2 Q46 337.6 46 339.2 L46 342.6 L18.5 342.6 Z"/>
  <path d="M20.8 333.6 L26.6 333.6 L26.6 337 L20.8 337 Z M29.5 333.6 L35.6 333.6 L37.4 337 L29.5 337 Z M28 332.2 L28 342.4" stroke-width="0.9"/>
  <circle cx="23.4" cy="343" r="3.1" fill="#fff"/><circle cx="40.6" cy="343" r="3.1" fill="#fff"/>
  <circle cx="23.4" cy="343" r="1.3"/><circle cx="40.6" cy="343" r="1.3"/>
</g>
<!-- truck -->
<g>
  <path d="M8.5 361.4 L37 361.4 L37 376 L8.5 376 Z" stroke-width="1.4"/>
  <path d="M10 374.2 L36 374.2" stroke-width="1.4"/>
  <path d="M37.2 365.4 L43.4 365.4 L45.8 371.6 L45.8 377.4 L9 377.4 L9 376" stroke-width="1.3"/>
  <path d="M39.6 367.4 L42.6 367.4 L43.8 371 L39.6 371 Z M43.5 374 L45.6 374" stroke-width="0.9"/>
  <circle cx="14.4" cy="378.4" r="2.3" fill="#fff"/><circle cx="19.8" cy="378.4" r="2.3" fill="#fff"/><circle cx="39.5" cy="378.4" r="2.3" fill="#fff"/>
  <circle cx="14.4" cy="378.4" r="0.7"/><circle cx="19.8" cy="378.4" r="0.7"/><circle cx="39.5" cy="378.4" r="0.7"/>
</g>
<!-- microbus -->
<g>
  <path d="M15.6 398 Q15.6 395.8 18 395.8 L45.8 395.8 M40 395.8 L45.8 402.6 L45.8 409.8 L14 409.8 L14 407.6 L15.6 407.4 L15.6 398"/>
  <path d="M17.6 398.6 L30 398.6 L30 401.8 L17.6 401.8 Z M20.6 398.6 L20.6 401.8 M23.7 398.6 L23.7 401.8 M26.8 398.6 L26.8 401.8" stroke-width="0.9"/>
  <path d="M32 397.6 L35.2 397.6 L35.2 409.6 L32 409.6 Z M37.4 398.4 L40.4 398.4 L43.6 403 L37.4 403 Z M15.8 404.2 L31.8 404.2 M37.4 405.6 L39 405.6" stroke-width="0.9"/>
  <circle cx="20.3" cy="410.6" r="2.4" fill="#fff"/><circle cx="39.5" cy="410.6" r="2.4" fill="#fff"/>
  <circle cx="20.3" cy="410.6" r="0.8"/><circle cx="39.5" cy="410.6" r="0.8"/>
</g>
</g>

<text x="260" y="508.8" font-size="10.5" font-weight="normal" fill="#222" textLength="27.00" lengthAdjust="spacingAndGlyphs" stroke="#222" stroke-width="0.25">Freepik</text>
<text x="441.75" y="510.5" font-size="12" font-weight="normal" fill="#222" textLength="196.50" lengthAdjust="spacingAndGlyphs" stroke="#222" stroke-width="0.25">Fuente: Secretaría de Movilidad de Manizales.</text>
</g>
</svg>
</body></html>
